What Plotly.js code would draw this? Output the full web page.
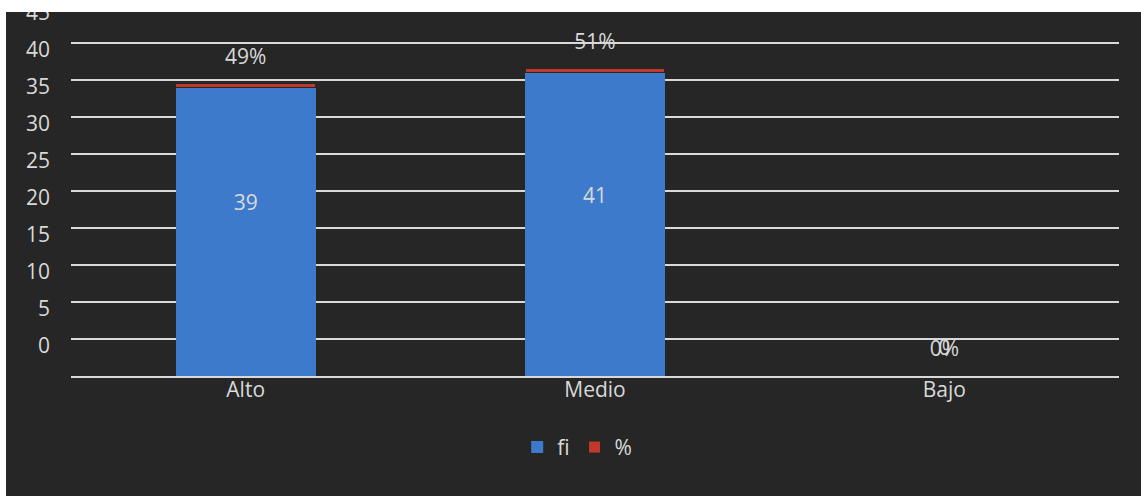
<!DOCTYPE html>
<html>
<head>
<meta charset="utf-8">
<script src="https://cdn.plot.ly/plotly-3.0.1.min.js"></script>
<style>
  html, body { margin: 0; padding: 0; background: #ffffff; width: 1141px; height: 496px; overflow: hidden; }
  #frame { position: absolute; left: 6px; top: 12px; width: 1135px; height: 484px; overflow: hidden; background: #262626; }
  #chart { position: absolute; left: 0; top: -12px; width: 1135px; height: 496px; }
</style>
</head>
<body>
<div id="frame"><div id="chart"></div></div>
<script>
// Data
const categories = ["Alto", "Medio", "Bajo"];
const fiValues = [39, 41, 0];
const pctValues = [0.49, 0.51, 0];
const pctLabels = ["49%", "51%", "0%"];
const tickValues = [5, 10, 15, 20, 25, 30, 35, 40, 45, 50];
const tickLabels = ["0", "5", "10", "15", "20", "25", "30", "35", "40", "45"];

const textColor = "#d9d9d9";
const fontFamily = "'Open Sans', 'Noto Sans', sans-serif";
const fontSize = 21;
const labelLift = 3.6;    // data-label offset in axis units (as in the original rendering)
const pctLift = 3.4;

const traces = [
  {
    type: "bar", name: "fi", x: categories, y: fiValues,
    marker: { color: "#3d7acb", line: { width: 0 } },
    hoverinfo: "skip"
  },
  {
    type: "bar", name: "%", x: categories, y: pctValues,
    marker: { color: "#c0392b", line: { color: "#262626", width: 1 } },
    hoverinfo: "skip"
  },
  {
    type: "scatter", mode: "text", showlegend: false, hoverinfo: "skip",
    x: categories, y: fiValues.map(v => v / 2 + labelLift),
    text: fiValues.map(String),
    textfont: { family: fontFamily, size: fontSize, color: textColor }
  },
  {
    type: "scatter", mode: "text", showlegend: false, hoverinfo: "skip",
    x: categories, y: fiValues.map((v, i) => v + pctValues[i] + pctLift),
    text: pctLabels,
    textfont: { family: fontFamily, size: fontSize, color: textColor }
  }
];

const layout = {
  width: 1135, height: 496,
  margin: { l: 65, r: 22, t: 0, b: 120 },
  paper_bgcolor: "#262626",
  plot_bgcolor: "#262626",
  barmode: "stack",
  bargap: 0.6,
  font: { family: fontFamily, size: fontSize, color: textColor },
  showlegend: true,
  legend: {
    orientation: "h", traceorder: "normal",
    x: 0.483, xanchor: "center", y: -0.19, yanchor: "middle",
    font: { family: fontFamily, size: fontSize, color: textColor },
    bgcolor: "rgba(0,0,0,0)"
  },
  xaxis: {
    type: "category",
    showgrid: false, zeroline: false,
    showline: true, linecolor: "#d9d9d9", linewidth: 2,
    ticks: "", ticklabelstandoff: -6,
    tickfont: { family: fontFamily, size: fontSize, color: textColor },
    fixedrange: true
  },
  yaxis: {
    range: [0, 50.8],
    tickmode: "array", tickvals: tickValues, ticktext: tickLabels,
    showgrid: true, gridcolor: "#d9d9d9", gridwidth: 2,
    zeroline: false, showline: false,
    ticks: "", ticklabelstandoff: 20, ticklabelshift: 7,
    ticklabeloverflow: "allow",
    tickfont: { family: fontFamily, size: fontSize, color: textColor },
    fixedrange: true
  }
};

Plotly.newPlot("chart", traces, layout, { displayModeBar: false, staticPlot: true });
</script>
</body>
</html>
